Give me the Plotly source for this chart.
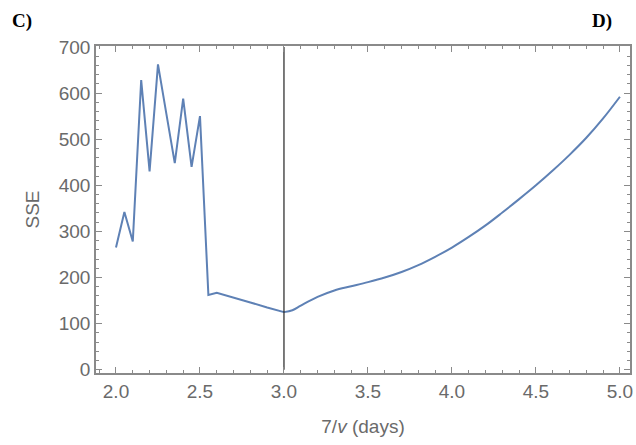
import plotly.graph_objects as go

# Jagged part (linear segments)
x_rough = [2.0, 2.05, 2.1, 2.15, 2.2, 2.25, 2.3, 2.35, 2.4, 2.45, 2.5, 2.55, 2.6, 2.7, 2.8, 2.9, 3.0]
y_rough = [265, 342, 278, 628, 430, 662, 555, 448, 588, 440, 550, 162, 167, 157, 146, 135, 125]

# Smooth part
x_smooth = [3.0, 3.05, 3.1, 3.2, 3.3, 3.4, 3.5, 3.6, 3.7, 3.8, 3.9, 4.0, 4.1, 4.2, 4.3, 4.4, 4.5, 4.6, 4.7, 4.8, 4.9, 5.0]
y_smooth = [125, 129, 139, 158, 172, 181, 190, 200, 212, 227, 245, 265, 288, 313, 341, 370, 400, 432, 466, 503, 545, 592]

# Vertical reference line
vline_x = 3.0
vline_y = [0, 700]

x_ticks = [2.0, 2.5, 3.0, 3.5, 4.0, 4.5, 5.0]
x_ticklabels = ["2.0", "2.5", "3.0", "3.5", "4.0", "4.5", "5.0"]
y_ticks = [0, 100, 200, 300, 400, 500, 600, 700]

line_color = "#5E81B5"
axis_color = "#8a8a8a"
tick_font = dict(family="Liberation Sans, Arial, sans-serif", size=19, color="#6a6a6a")

W, H = 636, 445
ML, MR, MT, MB = 96, 6, 46, 72

fig = go.Figure()
fig.add_trace(go.Scatter(x=x_rough, y=y_rough, mode="lines",
                         line=dict(color=line_color, width=2), showlegend=False))
fig.add_trace(go.Scatter(x=x_smooth, y=y_smooth, mode="lines",
                         line=dict(color=line_color, width=2, shape="spline", smoothing=1.0),
                         showlegend=False))
fig.add_trace(go.Scatter(x=[vline_x, vline_x], y=vline_y, mode="lines",
                         line=dict(color="#222222", width=1.2), showlegend=False))

fig.update_layout(
    width=W, height=H,
    margin=dict(l=ML, r=MR, t=MT, b=MB, autoexpand=False),
    paper_bgcolor="white", plot_bgcolor="white",
    xaxis=dict(
        range=[1.881, 5.06], tickvals=x_ticks, ticktext=x_ticklabels,
        ticks="inside", ticklen=6, tickwidth=1.2, tickcolor=axis_color,
        showline=True, linecolor=axis_color, linewidth=1.5, mirror="allticks",
        showgrid=False, zeroline=False, tickfont=tick_font, automargin=False,
        minor=dict(ticks="inside", ticklen=3.5, dtick=0.1, tick0=2.0,
                   tickcolor=axis_color, showgrid=False),
        title=dict(text="7/<i>v</i> (days)", font=tick_font, standoff=19),
    ),
    yaxis=dict(
        range=[-7, 702], tickvals=y_ticks,
        ticks="inside", ticklen=6, tickwidth=1.2, tickcolor=axis_color,
        showline=True, linecolor=axis_color, linewidth=1.5, mirror="allticks",
        showgrid=False, zeroline=False, tickfont=tick_font, automargin=False,
        minor=dict(ticks="inside", ticklen=3.5, dtick=20, tick0=0,
                   tickcolor=axis_color, showgrid=False),
        title=dict(text="SSE", font=tick_font, standoff=14),
    ),
)

plot_w = W - ML - MR
plot_h = H - MT - MB
def to_paper(px, py):
    return (px - ML) / plot_w, (H - MB - py) / plot_h

label_font = dict(family="Liberation Serif, Times New Roman, serif", size=19, color="black")
for txt, (px, py) in [("<b>C)</b>", (10, 21)), ("<b>D)</b>", (590, 21))]:
    ax_, ay_ = to_paper(px, py)
    fig.add_annotation(text=txt, x=ax_, y=ay_, xref="paper", yref="paper",
                       showarrow=False, xanchor="left", yanchor="middle", font=label_font)

fig.write_html("out.html",
               config={"displayModeBar": False},
               post_script="document.body.style.margin='0';document.body.style.overflow='hidden';")
